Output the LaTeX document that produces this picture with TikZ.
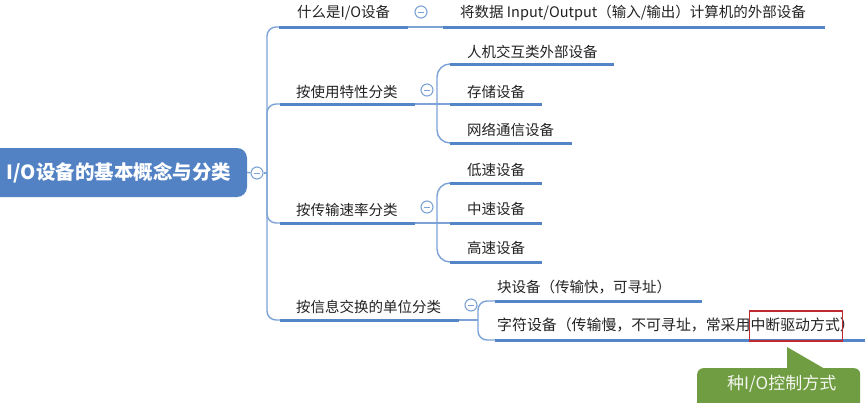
\documentclass[tikz,border=0pt]{standalone}
\usepackage{fontspec}
\setmainfont{Noto Sans CJK SC}
\definecolor{lineblue}{RGB}{84,133,199}
\definecolor{thinblue}{RGB}{125,163,214}
\definecolor{rootblue}{RGB}{82,130,196}
\definecolor{calloutgreen}{RGB}{112,156,66}
\definecolor{boxred}{RGB}{192,40,50}
\definecolor{txt}{RGB}{35,35,35}
\begin{document}
\begin{tikzpicture}[x=1pt,y=-1pt,
  lbl/.style={anchor=west,inner sep=0pt,font=\fontsize{14.5}{16}\selectfont,text=txt},
  uline/.style={draw=lineblue,line width=3pt},
  conn/.style={draw=thinblue,line width=1.4pt,rounded corners=9pt},
  bconn/.style={conn,rounded corners=13pt},
  toggle/.style={circle,draw=thinblue,line width=1.1pt,fill=white,minimum size=12pt,inner sep=0pt,
    path picture={\draw[thinblue,line width=1pt] ([xshift=-2.6pt]path picture bounding box.center) -- ([xshift=2.6pt]path picture bounding box.center);}},
]
\useasboundingbox (0,0) rectangle (865,402);
\clip (0,0) rectangle (865,402);
\fill[white] (0,0) rectangle (865,402);

% root
\node (root) [fill=rootblue, rounded corners=10pt, minimum width=267pt, minimum height=49pt,
  text=white, font=\fontsize{19.5}{21}\selectfont\bfseries, inner sep=0pt] at (113.5,172.5)
  {\hspace*{11pt}I/O设备的基本概念与分类};
\node (t0) [toggle] at (257,173) {};
\coordinate (trunk) at (267,173);

% coordinates of underlines
\coordinate (Au1) at (279,27);  \coordinate (Au2) at (408,27);
\coordinate (A1u1) at (443,27); \coordinate (A1u2) at (825,27);
\coordinate (Bu1) at (280,104); \coordinate (Bu2) at (415,104);
\coordinate (Bj) at (437,104);
\coordinate (B1u1) at (450,64);  \coordinate (B1u2) at (614,64);
\coordinate (B2u1) at (450,104); \coordinate (B2u2) at (542,104);
\coordinate (B3u1) at (450,143); \coordinate (B3u2) at (572,143);
\coordinate (Cu1) at (280,223); \coordinate (Cu2) at (415,223);
\coordinate (Cj) at (437,223);
\coordinate (C1u1) at (450,183); \coordinate (C1u2) at (542,183);
\coordinate (C2u1) at (450,223); \coordinate (C2u2) at (542,223);
\coordinate (C3u1) at (450,262); \coordinate (C3u2) at (542,262);
\coordinate (Du1) at (280,320); \coordinate (Du2) at (459,320);
\coordinate (Dj) at (478,320);
\coordinate (D1u1) at (495,301); \coordinate (D1u2) at (702,301);
\coordinate (D2u1) at (495,340); \coordinate (D2u2) at (870,340);

% connectors
\draw[conn] (root.east) -- (t0);
\draw[conn] (t0) -- (trunk);
\draw[conn] (Au1) -| (trunk) |- (Du1);
\draw[conn] (trunk) |- (Bu1);
\draw[conn] (trunk) |- (Cu1);
\draw[conn] (Au2) -- (A1u1);
\draw[conn] (Bu2) -- (B2u1);
\draw[bconn] (Bj) |- (B1u1);
\draw[bconn] (Bj) |- (B3u1);
\draw[conn] (Cu2) -- (C2u1);
\draw[bconn] (Cj) |- (C1u1);
\draw[bconn] (Cj) |- (C3u1);
\draw[conn] (Du2) -- (Dj);
\draw[conn] (Dj) |- (D1u1);
\draw[conn] (Dj) |- (D2u1);

% underlines
\foreach \a/\b in {Au1/Au2,A1u1/A1u2,Bu1/Bu2,B1u1/B1u2,B2u1/B2u2,B3u1/B3u2,Cu1/Cu2,C1u1/C1u2,C2u1/C2u2,C3u1/C3u2,Du1/Du2,D1u1/D1u2,D2u1/D2u2}
  \draw[uline] (\a) -- (\b);

% toggles
\node (tA) [toggle] at (421,12) {};
\node (tB) [toggle] at (427,90) {};
\node (tC) [toggle] at (427,207) {};
\node (tD) [toggle] at (471,305) {};

% labels
\node (A) [lbl] at (297,13) {什么是I/O设备};
\node (A1) [lbl] at (460,13) {将数据 Input/Output（输入/输出）计算机的外部设备};
\node (B) [lbl] at (296,92) {按使用特性分类};
\node (B1) [lbl] at (467,52) {人机交互类外部设备};
\node (B2) [lbl] at (467,92) {存储设备};
\node (B3) [lbl] at (467,130) {网络通信设备};
\node (C) [lbl] at (296,210) {按传输速率分类};
\node (C1) [lbl] at (467,170) {低速设备};
\node (C2) [lbl] at (467,209) {中速设备};
\node (C3) [lbl] at (467,248) {高速设备};
\node (D) [lbl] at (296,307) {按信息交换的单位分类};
\node (D1) [lbl] at (497,287) {块设备（传输快，可寻址）};
\node (D2) [lbl, font=\fontsize{14.9}{16}\selectfont] at (497,325) {字符设备（传输慢，不可寻址，常采用中断驱动方式）};

% highlight box
\node (hl) [draw=boxred, line width=1.2pt, minimum width=93pt, minimum height=30pt, inner sep=0pt] at (796,326) {};

% callout
\node (callout) [fill=calloutgreen, rounded corners=6pt, minimum width=163pt, minimum height=50pt,
  anchor=north west, inner sep=0pt] at (697,368) {};
\fill[calloutgreen] (787,369) -- (787,347) -- (825,369) -- cycle;
\node (ctext) [anchor=west, inner sep=0pt, text=white!92!calloutgreen,
  font=\fontsize{17}{18}\selectfont] at (727,384) {种I/O控制方式};
\end{tikzpicture}
\end{document}
